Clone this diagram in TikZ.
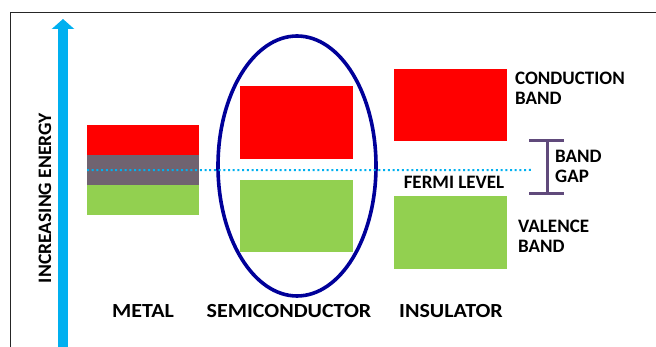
\documentclass[tikz,border=0pt]{standalone}
\usepackage{fontspec}
\setmainfont{Carlito}
\usetikzlibrary{arrows.meta,shapes.geometric}

\definecolor{condred}{RGB}{255,0,0}
\definecolor{valgreen}{RGB}{146,208,80}
\definecolor{overlapgray}{RGB}{112,99,112}
\definecolor{energycyan}{RGB}{0,176,240}
\definecolor{ringblue}{RGB}{0,0,153}
\definecolor{gappurple}{RGB}{96,74,123}

\tikzset{
  band/.style={inner sep=0pt, anchor=north west, minimum width=113pt},
  caption/.style={font=\bfseries\fontsize{19}{20}\selectfont, inner sep=0pt, align=left},
  material/.style={caption, font=\bfseries\fontsize{20}{20}\selectfont, xscale=1.1},
  fermi/.style={energycyan, line width=2pt, dash pattern=on 2pt off 2.7pt},
}

\begin{document}
\begin{tikzpicture}[x=1pt, y=-1pt]
   \useasboundingbox (0,0) rectangle (656,347);
   % frame
   \draw[line width=1pt, black!85] (656,13) -- (10,13) -- (10,347);

   % energy axis
   \coordinate (etail) at (63,347);
   \coordinate (etip) at (63,19);
   \draw[energycyan, line width=10pt, -{Triangle[width=22pt,length=10pt]}] (etail) -- (etip);
   \node[caption, rotate=90, xscale=1.03] (energy) at (45,198) {INCREASING ENERGY};

   % metal
   \node[band, minimum width=112pt, minimum height=30pt, fill=condred] (metalcb) at (87,125) {};
   \node[band, minimum width=112pt, minimum height=30pt, fill=overlapgray] (metalgap) at (87,155) {};
   \node[band, minimum width=112pt, minimum height=30pt, fill=valgreen] (metalvb) at (87,185) {};

   % semiconductor
   \node[band, minimum height=73pt, fill=condred] (semicb) at (240,86) {};
   \node[band, minimum height=72pt, fill=valgreen] (semivb) at (240,180) {};
   \node[draw=ringblue, line width=3.6pt, ellipse, minimum width=158pt, minimum height=260pt] (semiring) at (297,166) {};

   % insulator
   \node[band, minimum height=72pt, fill=condred] (inscb) at (394,69) {};
   \node[band, minimum height=73pt, fill=valgreen] (insvb) at (394,196) {};

   % fermi level
   \coordinate (fermiend) at (532,170);
   \draw[fermi] (metalgap.west) -- (fermiend);

   % band gap bar
   \coordinate (gaptop) at (547,141);
   \coordinate (gapbot) at (547,194);
   \draw[gappurple, line width=3pt] (gaptop) -- (gapbot);
   \draw[gappurple, line width=3pt] ([xshift=-18pt]gaptop) -- ([xshift=17pt]gaptop);
   \draw[gappurple, line width=3pt] ([xshift=-18pt]gapbot) -- ([xshift=17pt]gapbot);

   % labels
   \node[caption, anchor=west] (condlbl) at (515,88) {CONDUCTION\\BAND};
   \node[caption, anchor=west] (gaplbl) at (555,166) {BAND\\GAP};
   \node[caption] (fermilbl) at (454,182) {FERMI LEVEL};
   \node[caption, anchor=west] (vallbl) at (518,236) {VALENCE\\BAND};
   \node[material] (metallbl) at (143,311) {METAL};
   \node[material] (semilbl) at (289,311) {SEMICONDUCTOR};
   \node[material] (inslbl) at (451,311) {INSULATOR};
\end{tikzpicture}
\end{document}
